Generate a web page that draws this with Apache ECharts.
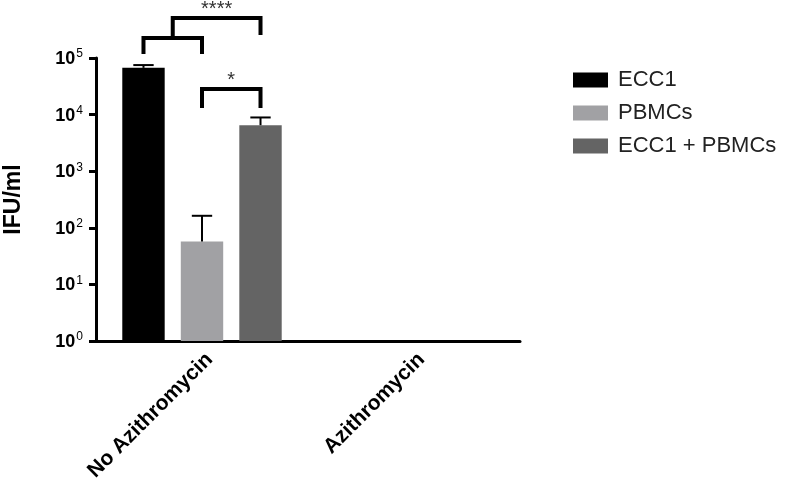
<!DOCTYPE html>
<html>
<head>
<meta charset="utf-8">
<script src="https://cdn.jsdelivr.net/npm/echarts@6/dist/echarts.min.js"></script>
<style>html,body{margin:0;padding:0;background:#fff}#c{width:787px;height:482px}</style>
</head>
<body>
<div id="c"></div>
<script>
var categories = ['No Azithromycin', 'Azithromycin'];
var seriesNames = ['ECC1', 'PBMCs', 'ECC1 + PBMCs'];
var ecc1 = [67000, null];
var pbmcs = [57, null];
var combo = [6500, null];
var ecc1Upper = [75000, null];
var pbmcsUpper = [163, null];
var comboUpper = [8900, null];
var yTicks = [1, 10, 100, 1000, 10000, 100000];
// significance labels: ECC1 vs PBMCs (nested), (ECC1,PBMCs) vs ECC1 + PBMCs, PBMCs vs ECC1 + PBMCs
var sigLabels = ['', '****', '*'];

var colors = ['#000000', '#a1a1a4', '#646464'];
var FONT = '"Liberation Sans", Arial, sans-serif';
var BW = 0.2, GAP = 0.38;

function barOffset(api, idx) {
  var band = api.size([1, 0])[0];
  var w = band * BW;
  return (idx - 1) * w * (1 + GAP);
}

var chart = echarts.init(document.getElementById('c'), null, {renderer: 'canvas'});
var values = [ecc1, pbmcs, combo];
var uppers = [ecc1Upper, pbmcsUpper, comboUpper];

var errData = [];
for (var s = 0; s < 3; s++) {
  for (var c = 0; c < categories.length; c++) {
    if (values[s][c] != null) errData.push([c, values[s][c], uppers[s][c], s]);
  }
}

var series = seriesNames.map(function (n, i) {
  return {
    name: n, type: 'bar', data: values[i],
    barWidth: (BW * 100) + '%', barGap: (GAP * 100) + '%',
    itemStyle: {color: colors[i]}
  };
});

series.push({
  type: 'custom', name: 'err', clip: false, z: 5,
  data: errData,
  encode: {x: 0, y: 1},
  renderItem: function (params, api) {
    var cat = api.value(0), s = api.value(3);
    var p0 = api.coord([cat, api.value(1)]);
    var p1 = api.coord([cat, api.value(2)]);
    var x = p0[0] + barOffset(api, s);
    var half = api.size([1, 0])[0] * 0.048;
    return {
      type: 'group', children: [
        {type: 'line', shape: {x1: x, y1: p0[1], x2: x, y2: p1[1]}, style: {stroke: '#000', lineWidth: 2}},
        {type: 'line', shape: {x1: x - half, y1: p1[1], x2: x + half, y2: p1[1]}, style: {stroke: '#000', lineWidth: 2}}
      ]
    };
  }
});

series.push({
  type: 'custom', name: 'sig', clip: false, z: 6,
  data: [[0, 1]],
  encode: {x: 0, y: 1},
  renderItem: function (params, api) {
    var ch = [];
    var ls = {stroke: '#000', lineWidth: 4, fill: null, lineJoin: 'miter', lineCap: 'butt'};
    function X(i) { return api.coord([0, 1])[0] + barOffset(api, i); }
    function Y(l) { return api.coord([0, Math.pow(10, l)])[1]; }
    var xa = X(0), xb = X(1), xc = X(2);
    ch.push({type: 'polyline', shape: {points: [[xa, Y(5.071)], [xa, Y(5.353)], [xb, Y(5.353)], [xb, Y(5.071)]]}, style: ls});
    var xm = (xa + xb) / 2;
    ch.push({type: 'polyline', shape: {points: [[xm, Y(5.353)], [xm, Y(5.707)], [xc, Y(5.707)], [xc, Y(5.406)]]}, style: ls});
    ch.push({type: 'polyline', shape: {points: [[xb, Y(4.117)], [xb, Y(4.452)], [xc, Y(4.452)], [xc, Y(4.117)]]}, style: ls});
    ch.push({type: 'text', style: {text: sigLabels[1], x: (xm + xc) / 2, y: Y(5.707) + 2, align: 'center', verticalAlign: 'bottom', fontSize: 20, fontFamily: FONT, fill: '#333'}});
    ch.push({type: 'text', style: {text: sigLabels[2], x: (xb + xc) / 2, y: Y(4.452) + 1, align: 'center', verticalAlign: 'bottom', fontSize: 20, fontFamily: FONT, fill: '#333'}});
    return {type: 'group', children: ch};
  }
});

chart.setOption({
  animation: false,
  backgroundColor: '#fff',
  grid: {left: 96, right: 267, top: 58, bottom: 141, containLabel: false, outerBoundsMode: 'none'},
  legend: {
    data: seriesNames, orient: 'vertical', left: 568, top: 64,
    itemWidth: 35, itemHeight: 15, itemGap: 11, icon: 'rect',
    textStyle: {fontSize: 22, fontFamily: FONT, color: '#222', padding: [0, 0, 0, 5]}
  },
  xAxis: {
    type: 'category', data: categories,
    axisLine: {lineStyle: {color: '#000', width: 3}},
    axisTick: {alignWithLabel: true, length: 7, lineStyle: {color: '#000', width: 3}},
    axisLabel: {rotate: 45, fontSize: 21, fontWeight: 'bold', fontFamily: FONT, color: '#000', margin: 8, verticalAlign: 'top'}
  },
  yAxis: {
    type: 'log', logBase: 10, min: 1, max: 100000,
    name: 'IFU/ml', nameLocation: 'middle', nameGap: 71, nameRotate: 90, nameMoveOverlap: false,
    nameTextStyle: {fontSize: 23, fontWeight: 'bold', fontFamily: FONT, color: '#000'},
    splitLine: {show: false},
    axisLine: {show: true, lineStyle: {color: '#000', width: 3}},
    axisTick: {show: true, length: 7, lineStyle: {color: '#000', width: 3}},
    axisLabel: {
      margin: 13, color: '#000',
      formatter: function (v) { return '{b|10}{s|' + Math.round(Math.log10(v)) + '}'; },
      rich: {
        b: {fontSize: 18, fontWeight: 'bold', fontFamily: FONT, color: '#000', verticalAlign: 'bottom', lineHeight: 20},
        s: {fontSize: 12, fontFamily: FONT, color: '#000', verticalAlign: 'top', lineHeight: 20, padding: [0, 0, 4, 1]}
      }
    }
  },
  series: series
});
</script>
</body>
</html>
